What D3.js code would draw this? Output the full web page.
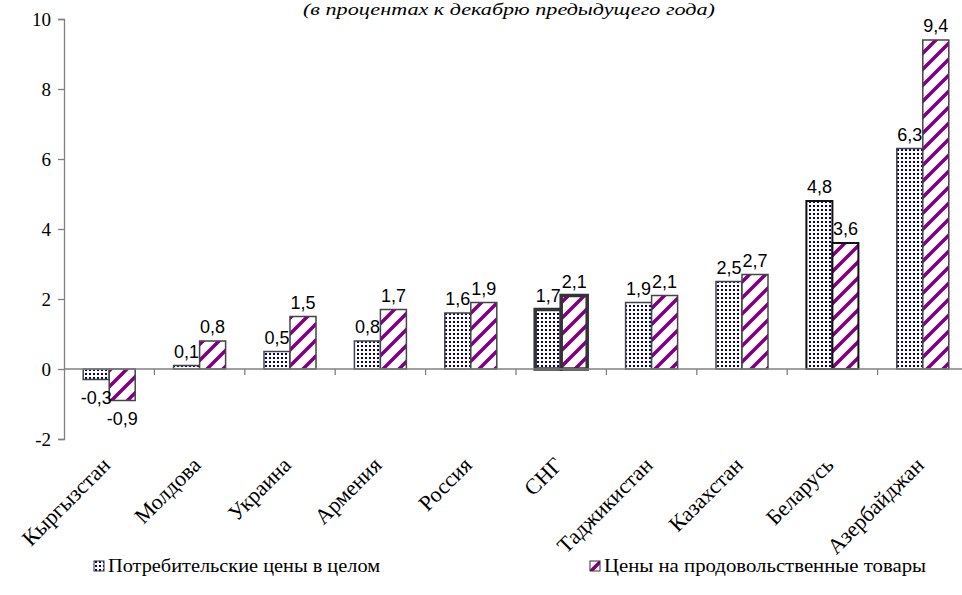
<!DOCTYPE html>
<html>
<head>
<meta charset="utf-8">
<script src="https://cdn.jsdelivr.net/npm/d3@7"></script>
<style>
  body { margin: 0; background: #fff; }
  svg { display: block; }
  text.serif { font-family: "Liberation Serif", "DejaVu Serif", serif; }
  text.sans { font-family: "Liberation Sans", Arial, sans-serif; }
</style>
</head>
<body>
<div id="chart"></div>
<script>
// chart data
const categories = ['Кыргызстан', 'Молдова', 'Украина', 'Армения', 'Россия', 'СНГ', 'Таджикистан', 'Казахстан', 'Беларусь', 'Азербайджан'];
const consumerPrices = [-0.3, 0.1, 0.5, 0.8, 1.6, 1.7, 1.9, 2.5, 4.8, 6.3];
const foodPrices = [-0.9, 0.8, 1.5, 1.7, 1.9, 2.1, 2.1, 2.7, 3.6, 9.4];
const yTicks = [-2, 0, 2, 4, 6, 8, 10];
const seriesNames = ['Потребительские цены в целом', 'Цены на продовольственные товары'];
const title = '(в процентах к декабрю предыдущего года)';

const width = 962, height = 595;
const serifFont = '"Liberation Serif", "DejaVu Serif", serif';
const sansFont = '"Liberation Sans", Arial, sans-serif';

const svg = d3.select('#chart')
    .append('svg')
    .attr('width', width)
    .attr('height', height);

// patterns: navy dots and purple diagonal stripes
const defs = svg.append('defs');
const dots = defs.append('pattern')
    .attr('id', 'dots')
    .attr('patternUnits', 'userSpaceOnUse')
    .attr('width', 4).attr('height', 4);
dots.append('rect').attr('width', 4).attr('height', 4).attr('fill', '#fff');
dots.append('rect').attr('x', 1).attr('y', 1).attr('width', 2).attr('height', 2).attr('fill', '#000080');

const stripes = defs.append('pattern')
    .attr('id', 'stripes')
    .attr('patternUnits', 'userSpaceOnUse')
    .attr('width', 16).attr('height', 16);
stripes.append('rect').attr('width', 16).attr('height', 16).attr('fill', '#fff');
stripes.append('path')
    .attr('d', 'M-4,20 L20,-4 M-4,4 L4,-4 M12,20 L20,12')
    .attr('stroke', '#800080')
    .attr('stroke-width', 3.6);

// scales
const x = d3.scaleBand().domain(categories).range([64, 64 + 90.4 * categories.length]);
const y = d3.scaleLinear().domain([-2, 10]).range([439, 19]);
const barW = 26;
const xs = d3.scaleBand().domain([0, 1])
    .range([x.bandwidth() / 2 - barW, x.bandwidth() / 2 + barW]);

// y axis
const yAxis = d3.axisLeft(y).tickValues(yTicks).tickSize(6).tickPadding(7)
    .tickFormat(d => d);
const gy = svg.append('g').attr('transform', 'translate(64,0)').call(yAxis);
gy.attr('font-family', serifFont).attr('font-size', 19);
gy.select('.domain').attr('stroke', '#808080').attr('stroke-width', 1.3);
gy.selectAll('.tick line').attr('stroke', '#808080').attr('stroke-width', 1.3);
gy.selectAll('.tick text')
    .attr('class', 'serif')
    .attr('font-family', serifFont)
    .attr('fill', '#000');

// bars
const series = [consumerPrices, foodPrices];
const fills = ['url(#dots)', 'url(#stripes)'];
series.forEach((vals, si) => {
    svg.append('g').selectAll('rect')
        .data(vals)
        .enter()
        .append('rect')
        .attr('x', (d, i) => x(categories[i]) + xs(si))
        .attr('width', xs.bandwidth())
        .attr('y', d => y(Math.max(0, d)))
        .attr('height', d => Math.abs(y(d) - y(0)))
        .attr('fill', fills[si])
        .attr('stroke', (d, i) => categories[i] === 'СНГ' ? '#333' : (categories[i] === 'Беларусь' ? '#111' : '#444'))
        .attr('stroke-width', (d, i) => categories[i] === 'СНГ' ? 3.5 : (categories[i] === 'Беларусь' ? 2 : 1.5));
});

// x axis line with ticks between categories
const gx = svg.append('g');
gx.append('line')
    .attr('x1', 64).attr('x2', width)
    .attr('y1', y(0)).attr('y2', y(0))
    .attr('stroke', '#808080').attr('stroke-width', 1.3);
gx.selectAll('line.tk')
    .data(categories.slice(1))
    .enter()
    .append('line')
    .attr('class', 'tk')
    .attr('x1', d => x(d)).attr('x2', d => x(d))
    .attr('y1', y(0)).attr('y2', y(0) + 6)
    .attr('stroke', '#808080').attr('stroke-width', 1.3);

// value labels
series.forEach((vals, si) => {
    svg.append('g').selectAll('text')
        .data(vals)
        .enter()
        .append('text')
        .attr('class', 'sans')
        .attr('font-family', sansFont)
        .attr('x', (d, i) => x(categories[i]) + xs(si) + xs.bandwidth() / 2)
        .attr('y', d => d >= 0 ? y(d) - 8 : y(d) + 24)
        .attr('text-anchor', 'middle')
        .attr('font-size', 18)
        .attr('fill', '#000')
        .text(d => d3.format('.1f')(d).replace('.', ',').replace('−', '-'));
});

// category labels, rotated
svg.append('g').selectAll('text')
    .data(categories)
    .enter()
    .append('text')
    .attr('class', 'serif')
    .attr('font-family', serifFont)
    .attr('transform', d => `translate(${x(d) + x.bandwidth() / 2 - 3},${461}) rotate(-45)`)
    .attr('text-anchor', 'end')
    .attr('dy', '0.35em')
    .attr('font-size', 22)
    .attr('fill', '#000')
    .text(d => d);

// title
svg.append('text')
    .attr('class', 'serif')
    .attr('font-family', serifFont)
    .attr('x', 509).attr('y', 15)
    .attr('text-anchor', 'middle')
    .attr('font-style', 'italic')
    .attr('font-size', 17)
    .attr('textLength', 412)
    .attr('lengthAdjust', 'spacingAndGlyphs')
    .text(title);

// legend
const legendX = [94, 590];
const legendW = [272, 322];
const legend = svg.append('g').selectAll('g')
    .data(seriesNames)
    .enter()
    .append('g')
    .attr('transform', (d, i) => `translate(${legendX[i]},572)`);
legend.append('rect')
    .attr('x', 0).attr('y', -11)
    .attr('width', 10).attr('height', 10)
    .attr('fill', (d, i) => fills[i])
    .attr('stroke', '#333').attr('stroke-width', 1);
legend.append('text')
    .attr('class', 'serif')
    .attr('font-family', serifFont)
    .attr('x', 14).attr('y', 0)
    .attr('font-size', 18)
    .attr('textLength', (d, i) => legendW[i])
    .attr('lengthAdjust', 'spacingAndGlyphs')
    .attr('fill', '#000')
    .text(d => d);
</script>
</body>
</html>
